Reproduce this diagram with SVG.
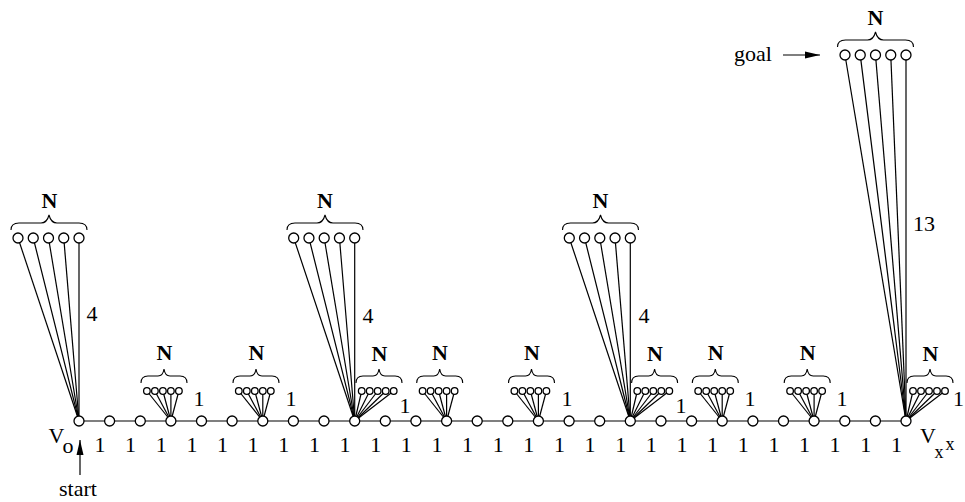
<svg xmlns="http://www.w3.org/2000/svg" xmlns:xlink="http://www.w3.org/1999/xlink" width="965" height="502" viewBox="0 0 965 502">
<style>
.ln{stroke:#000;stroke-width:1.2;fill:none}
.nd{fill:#fff;stroke:#000;stroke-width:1.3}
.br{fill:none;stroke:#000;stroke-width:1.1}
.t{font-family:"Liberation Serif",serif;font-size:22px;fill:#000}
.N{font-family:"Liberation Serif",serif;font-size:22px;font-weight:bold;fill:#000;text-anchor:middle}
.m{text-anchor:middle}
</style>
<defs>
<path id="bb" class="br" d="M-38,-8 Q-38,-15 -30,-15 L-8,-15 Q-2,-15 0,-23 Q2,-15 8,-15 L30,-15 Q38,-15 38,-8"/>
<path id="sb" class="br" d="M-23,-8 Q-23,-15 -16,-15 L-6,-15 Q-1,-15 0,-22 Q1,-15 6,-15 L16,-15 Q23,-15 23,-8"/>
<marker id="ah" markerUnits="userSpaceOnUse" markerWidth="16" markerHeight="8" refX="15" refY="4" orient="auto"><polygon points="0,0.5 15,4 0,7.5" fill="#000"/></marker>
</defs>
<g id="connectors" class="ln">
<line x1="79" y1="421" x2="906" y2="421"/>
<line x1="18" y1="238" x2="79" y2="421"/><line x1="33.25" y1="238" x2="79" y2="421"/><line x1="48.5" y1="238" x2="79" y2="421"/><line x1="63.75" y1="238" x2="79" y2="421"/><line x1="79" y1="238" x2="79" y2="421"/>
<line x1="293.7" y1="238" x2="354.7" y2="421"/><line x1="308.95" y1="238" x2="354.7" y2="421"/><line x1="324.2" y1="238" x2="354.7" y2="421"/><line x1="339.45" y1="238" x2="354.7" y2="421"/><line x1="354.7" y1="238" x2="354.7" y2="421"/>
<line x1="569.3" y1="238" x2="630.3" y2="421"/><line x1="584.55" y1="238" x2="630.3" y2="421"/><line x1="599.8" y1="238" x2="630.3" y2="421"/><line x1="615.05" y1="238" x2="630.3" y2="421"/><line x1="630.3" y1="238" x2="630.3" y2="421"/>
<line x1="845" y1="55" x2="906" y2="421"/><line x1="860.25" y1="55" x2="906" y2="421"/><line x1="875.5" y1="55" x2="906" y2="421"/><line x1="890.75" y1="55" x2="906" y2="421"/><line x1="906" y1="55" x2="906" y2="421"/>
<line x1="146.9" y1="391" x2="170.9" y2="421"/><line x1="154.9" y1="391" x2="170.9" y2="421"/><line x1="162.9" y1="391" x2="170.9" y2="421"/><line x1="170.9" y1="391" x2="170.9" y2="421"/><line x1="178.9" y1="391" x2="170.9" y2="421"/>
<line x1="238.8" y1="391" x2="262.8" y2="421"/><line x1="246.8" y1="391" x2="262.8" y2="421"/><line x1="254.8" y1="391" x2="262.8" y2="421"/><line x1="262.8" y1="391" x2="262.8" y2="421"/><line x1="270.8" y1="391" x2="262.8" y2="421"/>
<line x1="422.6" y1="391" x2="446.6" y2="421"/><line x1="430.6" y1="391" x2="446.6" y2="421"/><line x1="438.6" y1="391" x2="446.6" y2="421"/><line x1="446.6" y1="391" x2="446.6" y2="421"/><line x1="454.6" y1="391" x2="446.6" y2="421"/>
<line x1="514.4" y1="391" x2="538.4" y2="421"/><line x1="522.4" y1="391" x2="538.4" y2="421"/><line x1="530.4" y1="391" x2="538.4" y2="421"/><line x1="538.4" y1="391" x2="538.4" y2="421"/><line x1="546.4" y1="391" x2="538.4" y2="421"/>
<line x1="698.2" y1="391" x2="722.2" y2="421"/><line x1="706.2" y1="391" x2="722.2" y2="421"/><line x1="714.2" y1="391" x2="722.2" y2="421"/><line x1="722.2" y1="391" x2="722.2" y2="421"/><line x1="730.2" y1="391" x2="722.2" y2="421"/>
<line x1="790.1" y1="391" x2="814.1" y2="421"/><line x1="798.1" y1="391" x2="814.1" y2="421"/><line x1="806.1" y1="391" x2="814.1" y2="421"/><line x1="814.1" y1="391" x2="814.1" y2="421"/><line x1="822.1" y1="391" x2="814.1" y2="421"/>
<line x1="361.7" y1="391" x2="354.7" y2="421"/><line x1="369.7" y1="391" x2="354.7" y2="421"/><line x1="377.7" y1="391" x2="354.7" y2="421"/><line x1="385.7" y1="391" x2="354.7" y2="421"/><line x1="393.7" y1="391" x2="354.7" y2="421"/>
<line x1="637.3" y1="391" x2="630.3" y2="421"/><line x1="645.3" y1="391" x2="630.3" y2="421"/><line x1="653.3" y1="391" x2="630.3" y2="421"/><line x1="661.3" y1="391" x2="630.3" y2="421"/><line x1="669.3" y1="391" x2="630.3" y2="421"/>
<line x1="913" y1="391" x2="906" y2="421"/><line x1="921" y1="391" x2="906" y2="421"/><line x1="929" y1="391" x2="906" y2="421"/><line x1="937" y1="391" x2="906" y2="421"/><line x1="945" y1="391" x2="906" y2="421"/>
<line x1="80" y1="475" x2="80" y2="440" marker-end="url(#ah)"/>
<line x1="783" y1="55" x2="820" y2="55" marker-end="url(#ah)"/>
</g>
<g id="main-nodes">
<g id="v0"><circle class="nd" cx="79" cy="421" r="5"/></g>
<g id="v1"><circle class="nd" cx="109.6" cy="421" r="5"/></g>
<g id="v2"><circle class="nd" cx="140.3" cy="421" r="5"/></g>
<g id="v3"><circle class="nd" cx="170.9" cy="421" r="5"/></g>
<g id="v4"><circle class="nd" cx="201.5" cy="421" r="5"/></g>
<g id="v5"><circle class="nd" cx="232.1" cy="421" r="5"/></g>
<g id="v6"><circle class="nd" cx="262.8" cy="421" r="5"/></g>
<g id="v7"><circle class="nd" cx="293.4" cy="421" r="5"/></g>
<g id="v8"><circle class="nd" cx="324" cy="421" r="5"/></g>
<g id="v9"><circle class="nd" cx="354.7" cy="421" r="5"/></g>
<g id="v10"><circle class="nd" cx="385.3" cy="421" r="5"/></g>
<g id="v11"><circle class="nd" cx="415.9" cy="421" r="5"/></g>
<g id="v12"><circle class="nd" cx="446.6" cy="421" r="5"/></g>
<g id="v13"><circle class="nd" cx="477.2" cy="421" r="5"/></g>
<g id="v14"><circle class="nd" cx="507.8" cy="421" r="5"/></g>
<g id="v15"><circle class="nd" cx="538.4" cy="421" r="5"/></g>
<g id="v16"><circle class="nd" cx="569.1" cy="421" r="5"/></g>
<g id="v17"><circle class="nd" cx="599.7" cy="421" r="5"/></g>
<g id="v18"><circle class="nd" cx="630.3" cy="421" r="5"/></g>
<g id="v19"><circle class="nd" cx="661" cy="421" r="5"/></g>
<g id="v20"><circle class="nd" cx="691.6" cy="421" r="5"/></g>
<g id="v21"><circle class="nd" cx="722.2" cy="421" r="5"/></g>
<g id="v22"><circle class="nd" cx="752.9" cy="421" r="5"/></g>
<g id="v23"><circle class="nd" cx="783.5" cy="421" r="5"/></g>
<g id="v24"><circle class="nd" cx="814.1" cy="421" r="5"/></g>
<g id="v25"><circle class="nd" cx="844.8" cy="421" r="5"/></g>
<g id="v26"><circle class="nd" cx="875.4" cy="421" r="5"/></g>
<g id="v27"><circle class="nd" cx="906" cy="421" r="5"/></g>
</g>
<g id="bigfan-0">
<circle class="nd" cx="18" cy="238" r="5"/><circle class="nd" cx="33.25" cy="238" r="5"/><circle class="nd" cx="48.5" cy="238" r="5"/><circle class="nd" cx="63.75" cy="238" r="5"/><circle class="nd" cx="79" cy="238" r="5"/>
<use xlink:href="#bb" href="#bb" transform="translate(49,238)"/>
<text class="N" x="49.5" y="208">N</text>
</g>
<g id="bigfan-1">
<circle class="nd" cx="293.7" cy="238" r="5"/><circle class="nd" cx="308.95" cy="238" r="5"/><circle class="nd" cx="324.2" cy="238" r="5"/><circle class="nd" cx="339.45" cy="238" r="5"/><circle class="nd" cx="354.7" cy="238" r="5"/>
<use xlink:href="#bb" href="#bb" transform="translate(325,238)"/>
<text class="N" x="325" y="208">N</text>
</g>
<g id="bigfan-2">
<circle class="nd" cx="569.3" cy="238" r="5"/><circle class="nd" cx="584.55" cy="238" r="5"/><circle class="nd" cx="599.8" cy="238" r="5"/><circle class="nd" cx="615.05" cy="238" r="5"/><circle class="nd" cx="630.3" cy="238" r="5"/>
<use xlink:href="#bb" href="#bb" transform="translate(600.5,238)"/>
<text class="N" x="600.5" y="208">N</text>
</g>
<g id="goalfan">
<circle class="nd" cx="845" cy="55" r="5"/><circle class="nd" cx="860.25" cy="55" r="5"/><circle class="nd" cx="875.5" cy="55" r="5"/><circle class="nd" cx="890.75" cy="55" r="5"/><circle class="nd" cx="906" cy="55" r="5"/>
<use xlink:href="#bb" href="#bb" transform="translate(875.5,55)"/>
<text class="N" x="875.5" y="25">N</text>
</g>
<g id="smallfan-3">
<circle class="nd" cx="146.9" cy="391" r="3.3"/><circle class="nd" cx="154.9" cy="391" r="3.3"/><circle class="nd" cx="162.9" cy="391" r="3.3"/><circle class="nd" cx="170.9" cy="391" r="3.3"/><circle class="nd" cx="178.9" cy="391" r="3.3"/>
<use xlink:href="#sb" href="#sb" transform="translate(164,391)"/>
<text class="N" x="164.5" y="360">N</text>
</g>
<g id="smallfan-6">
<circle class="nd" cx="238.8" cy="391" r="3.3"/><circle class="nd" cx="246.8" cy="391" r="3.3"/><circle class="nd" cx="254.8" cy="391" r="3.3"/><circle class="nd" cx="262.8" cy="391" r="3.3"/><circle class="nd" cx="270.8" cy="391" r="3.3"/>
<use xlink:href="#sb" href="#sb" transform="translate(256,391)"/>
<text class="N" x="256.5" y="360">N</text>
</g>
<g id="smallfan-9">
<circle class="nd" cx="361.7" cy="391" r="3.3"/><circle class="nd" cx="369.7" cy="391" r="3.3"/><circle class="nd" cx="377.7" cy="391" r="3.3"/><circle class="nd" cx="385.7" cy="391" r="3.3"/><circle class="nd" cx="393.7" cy="391" r="3.3"/>
<use xlink:href="#sb" href="#sb" transform="translate(379,391)"/>
<text class="N" x="379.5" y="361">N</text>
</g>
<g id="smallfan-12">
<circle class="nd" cx="422.6" cy="391" r="3.3"/><circle class="nd" cx="430.6" cy="391" r="3.3"/><circle class="nd" cx="438.6" cy="391" r="3.3"/><circle class="nd" cx="446.6" cy="391" r="3.3"/><circle class="nd" cx="454.6" cy="391" r="3.3"/>
<use xlink:href="#sb" href="#sb" transform="translate(439.7,391)"/>
<text class="N" x="440" y="360">N</text>
</g>
<g id="smallfan-15">
<circle class="nd" cx="514.4" cy="391" r="3.3"/><circle class="nd" cx="522.4" cy="391" r="3.3"/><circle class="nd" cx="530.4" cy="391" r="3.3"/><circle class="nd" cx="538.4" cy="391" r="3.3"/><circle class="nd" cx="546.4" cy="391" r="3.3"/>
<use xlink:href="#sb" href="#sb" transform="translate(531.5,391)"/>
<text class="N" x="532" y="360">N</text>
</g>
<g id="smallfan-18">
<circle class="nd" cx="637.3" cy="391" r="3.3"/><circle class="nd" cx="645.3" cy="391" r="3.3"/><circle class="nd" cx="653.3" cy="391" r="3.3"/><circle class="nd" cx="661.3" cy="391" r="3.3"/><circle class="nd" cx="669.3" cy="391" r="3.3"/>
<use xlink:href="#sb" href="#sb" transform="translate(654.6,391)"/>
<text class="N" x="655" y="361">N</text>
</g>
<g id="smallfan-21">
<circle class="nd" cx="698.2" cy="391" r="3.3"/><circle class="nd" cx="706.2" cy="391" r="3.3"/><circle class="nd" cx="714.2" cy="391" r="3.3"/><circle class="nd" cx="722.2" cy="391" r="3.3"/><circle class="nd" cx="730.2" cy="391" r="3.3"/>
<use xlink:href="#sb" href="#sb" transform="translate(715.3,391)"/>
<text class="N" x="715.8" y="360">N</text>
</g>
<g id="smallfan-24">
<circle class="nd" cx="790.1" cy="391" r="3.3"/><circle class="nd" cx="798.1" cy="391" r="3.3"/><circle class="nd" cx="806.1" cy="391" r="3.3"/><circle class="nd" cx="814.1" cy="391" r="3.3"/><circle class="nd" cx="822.1" cy="391" r="3.3"/>
<use xlink:href="#sb" href="#sb" transform="translate(807.2,391)"/>
<text class="N" x="807.7" y="360">N</text>
</g>
<g id="smallfan-27">
<circle class="nd" cx="913" cy="391" r="3.3"/><circle class="nd" cx="921" cy="391" r="3.3"/><circle class="nd" cx="929" cy="391" r="3.3"/><circle class="nd" cx="937" cy="391" r="3.3"/><circle class="nd" cx="945" cy="391" r="3.3"/>
<use xlink:href="#sb" href="#sb" transform="translate(930,391)"/>
<text class="N" x="930.5" y="361">N</text>
</g>
<g id="labels" class="t">
<g class="m">
<text x="100" y="452">1</text><text x="130.6" y="452">1</text><text x="161.3" y="452">1</text><text x="191.9" y="452">1</text><text x="222.5" y="452">1</text><text x="253.1" y="452">1</text><text x="283.8" y="452">1</text><text x="314.4" y="452">1</text><text x="345" y="452">1</text><text x="375.7" y="452">1</text><text x="406.3" y="452">1</text><text x="436.9" y="452">1</text><text x="467.6" y="452">1</text><text x="498.2" y="452">1</text><text x="528.8" y="452">1</text><text x="559.4" y="452">1</text><text x="590.1" y="452">1</text><text x="620.7" y="452">1</text><text x="651.3" y="452">1</text><text x="682" y="452">1</text><text x="712.6" y="452">1</text><text x="743.2" y="452">1</text><text x="773.9" y="452">1</text><text x="804.5" y="452">1</text><text x="835.1" y="452">1</text><text x="865.8" y="452">1</text><text x="896.4" y="452">1</text>
<text x="199" y="406">1</text><text x="291" y="406">1</text><text x="405" y="413">1</text><text x="567" y="406">1</text><text x="681" y="413">1</text><text x="750" y="406">1</text><text x="842" y="406">1</text><text x="958.5" y="406">1</text>
<text x="92" y="321">4</text><text x="368" y="323">4</text><text x="644" y="323">4</text>
<text x="924" y="231">13</text>
<text x="78" y="496">start</text>
</g>
<text x="772" y="61" text-anchor="end">goal</text>
<text x="48.5" y="443">V<tspan x="62.5" y="453">o</tspan></text>
<text x="920" y="443">V<tspan x="934.5" y="458" font-size="18">x</tspan><tspan x="945.5" y="450" font-size="18">x</tspan></text>
</g>
</svg>
